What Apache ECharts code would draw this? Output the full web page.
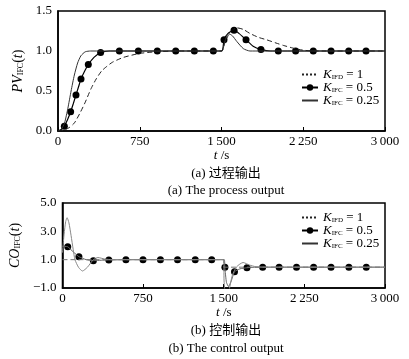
<!DOCTYPE html>
<html><head><meta charset="utf-8">
<script src="https://cdn.jsdelivr.net/npm/echarts@6/dist/echarts.min.js"></script>
<style>html,body{margin:0;padding:0;background:#fff}#c{width:409px;height:359px}</style>
</head><body><div id="c"></div>
<script>
// ---- data ----
const xTicks = [0, 750, 1500, 2250, 3000];
const legendNames = ['K_IFD = 1', 'K_IFC = 0.5', 'K_IFC = 0.25'];
// (a) process output PV
const pvK1 = [[0,0],[50,0.01],[100,0.04],[150,0.1],[200,0.22],[250,0.36],[300,0.52],[350,0.65],[400,0.75],[450,0.81],[500,0.86],[600,0.92],[750,0.97],[900,0.99],[1100,1.0],[1500,1.0],[1530,1.1],[1560,1.19],[1600,1.26],[1640,1.29],[1700,1.27],[1760,1.22],[1840,1.17],[1914,1.14],[2000,1.1],[2067,1.07],[2174,1.03],[2250,1.01],[2350,1.0],[3000,1.0]];
const pvK05 = [[0,0],[30,0.02],[58,0.06],[90,0.15],[116,0.24],[140,0.34],[165,0.45],[190,0.56],[211,0.65],[245,0.75],[278,0.83],[330,0.92],[391,0.98],[470,1.0],[1500,1.0],[1523,1.14],[1560,1.22],[1615,1.26],[1660,1.22],[1725,1.14],[1790,1.06],[1862,1.02],[1950,1.0],[3000,1.0]];
const pvK05MarkT = [58,116,165,211,278,391,563,737,911,1080,1251,1425,1523,1615,1725,1862,2021,2180,2342,2505,2667,2826];
const pvK05MarkV = [0.06,0.24,0.45,0.65,0.83,0.98,1,1,1,1,1,1,1.14,1.26,1.14,1.02,1,1,1,1,1,1];
const pvK025 = [[0,0],[30,0.02],[60,0.1],[90,0.28],[120,0.5],[150,0.7],[180,0.85],[210,0.94],[250,0.99],[300,1.0],[1500,1.0],[1530,1.12],[1563,1.22],[1600,1.19],[1640,1.12],[1700,1.03],[1761,1.0],[3000,1.0]];
// (b) control output CO
const coK1 = [[0,1.0],[1500,1.0],[1500,0.47],[3000,0.47]];
const coK05 = [[0,1.95],[49,1.91],[100,1.55],[153,1.21],[220,1.0],[287,0.93],[360,0.96],[431,0.98],[590,1.0],[1505,1.0],[1510,0.46],[1525,-0.6],[1545,-0.9],[1570,-0.5],[1600,0.15],[1650,0.35],[1716,0.43],[1800,0.47],[3000,0.47]];
const coK05MarkT = [49,153,287,431,590,749,911,1070,1235,1388,1511,1600,1716,1862,2015,2177,2336,2498,2664,2826];
const coK05MarkV = [1.91,1.21,0.93,0.98,1,1,1,1,1,1,0.46,0.15,0.43,0.47,0.47,0.47,0.47,0.47,0.47,0.47];
const coK025 = [[0,1.5],[15,2.8],[30,3.7],[43,3.96],[60,3.6],[80,2.7],[100,1.7],[116,1.0],[150,0.45],[186,0.2],[230,0.45],[287,1.0],[330,1.15],[390,1.05],[460,1.0],[1500,1.0],[1503,-0.5],[1520,-1.6],[1545,-1.3],[1580,-0.1],[1620,0.5],[1680,0.8],[1740,0.62],[1800,0.5],[1900,0.47],[3000,0.47]];

const FONT = '"Liberation Serif", "Times New Roman", serif';
const CJK = '"Liberation Serif", "Noto Sans CJK SC", serif';
const zip = (t, v) => t.map((x, i) => [x, v[i]]);

function xFmt(v){ return v >= 1000 ? Math.floor(v/1000) + '\u2009' + String(v%1000).padStart(3,'0') : String(v); }
function yFmt(v){ return (v < 0 ? '\u2212' : '') + Math.abs(v).toFixed(1); }

const richBase = {
  it: {fontFamily: FONT, fontStyle: 'italic', fontSize: 14, color: '#000'},
  n: {fontFamily: FONT, fontSize: 14, color: '#000'},
  sub: {fontFamily: FONT, fontSize: 8, color: '#000', verticalAlign: 'bottom'}
};

function mkX(gi){
  return {
    gridIndex: gi, type: 'value', min: 0, max: 3000, interval: 750,
    axisLine: {show: true, onZero: false, lineStyle: {color: '#000', width: 1.5}},
    axisTick: {show: true, inside: true, length: 4, lineStyle: {color: '#000'}},
    splitLine: {show: false},
    axisLabel: {formatter: xFmt, fontFamily: FONT, fontSize: 13, color: '#000', margin: 4},
    name: '{it|t} {n|/s}', nameLocation: 'middle', nameGap: 17,
    nameTextStyle: {rich: {it: {fontFamily: FONT, fontStyle:'italic', fontSize: 13, color:'#000'}, n: {fontFamily: FONT, fontSize: 13, color:'#000'}}}
  };
}
function mkY(gi, min, max, interval, nm){
  return {
    gridIndex: gi, type: 'value', min, max, interval,
    axisLine: {show: true, onZero: false, lineStyle: {color: '#000', width: 1.5}},
    axisTick: {show: false},
    splitLine: {show: false},
    axisLabel: {formatter: yFmt, fontFamily: FONT, fontSize: 13, color: '#000', margin: 6},
    name: nm, nameLocation: 'middle', nameGap: 28, nameRotate: 90,
    nameTextStyle: {rich: richBase}
  };
}
function legendFmt(name){
  const m = name.match(/K_(\w+) = (.*)/);
  return '{k|K}{s|' + m[1] + '}{e| = ' + m[2] + '}';
}
const legRich = {
  k: {fontFamily: FONT, fontStyle:'italic', fontSize: 13, color:'#000', lineHeight: 13},
  s: {fontFamily: FONT, fontSize: 7, color:'#000', verticalAlign:'bottom', lineHeight: 13},
  e: {fontFamily: FONT, fontSize: 13, color:'#000', lineHeight: 13}
};
function mkLegend(top){
  return {
    orient: 'vertical', left: 296, top: top, itemWidth: 16, itemHeight: 8, itemGap: 0,
    formatter: legendFmt, textStyle: {rich: legRich},
    data: [
      {name: legendNames[0], itemStyle: {opacity: 0}, lineStyle: {type: [2,2]}},
      {name: legendNames[1]},
      {name: legendNames[2], itemStyle: {opacity: 0}}
    ]
  };
}

const option = {
  animation: false,
  backgroundColor: '#fff',
  grid: [
    {left: 58, right: 24, top: 11, height: 120, show: true, borderColor: '#000', borderWidth: 1.5},
    {left: 58, right: 24, top: 203, height: 85, show: true, borderColor: '#000', borderWidth: 1.5}
  ],
  title: [
    {text: '(a) 过程输出', left: 221, top: 162, textAlign: 'center', textStyle: {fontFamily: CJK, fontWeight: 'normal', fontSize: 13, color: '#000'}},
    {text: '(a) The process output', left: 221, top: 179, textAlign: 'center', textStyle: {fontFamily: FONT, fontWeight: 'normal', fontSize: 13, color: '#000'}},
    {text: '(b) 控制输出', left: 221, top: 319, textAlign: 'center', textStyle: {fontFamily: CJK, fontWeight: 'normal', fontSize: 13, color: '#000'}},
    {text: '(b) The control output', left: 221, top: 337, textAlign: 'center', textStyle: {fontFamily: FONT, fontWeight: 'normal', fontSize: 13, color: '#000'}}
  ],
  legend: [mkLegend(63), mkLegend(206)],
  xAxis: [mkX(0), mkX(1)],
  yAxis: [
    mkY(0, 0, 1.5, 0.5, '{it|PV}{sub|IFC}{n|(}{it|t}{n|)}'),
    mkY(1, -1, 5, 2, '{it|CO}{sub|IFC}{n|(}{it|t}{n|)}')
  ],
  series: [
    {name: legendNames[0], type: 'line', xAxisIndex: 0, yAxisIndex: 0, data: pvK1, symbol: 'none', smooth: 0.2,
     lineStyle: {color: '#222', width: 1, type: [5,3]}, itemStyle: {color: '#222'}},
    {name: legendNames[1], type: 'line', xAxisIndex: 0, yAxisIndex: 0, data: pvK05, symbol: 'circle', symbolSize: 7, showSymbol: false, smooth: 0.2,
     lineStyle: {color: '#000', width: 1.2}, itemStyle: {color: '#000'}},
    {name: legendNames[1], type: 'scatter', xAxisIndex: 0, yAxisIndex: 0, data: zip(pvK05MarkT, pvK05MarkV), symbol: 'circle', symbolSize: 7, itemStyle: {color: '#000', opacity: 1}},
    {name: legendNames[2], type: 'line', xAxisIndex: 0, yAxisIndex: 0, data: pvK025, symbol: 'none', smooth: 0.2,
     lineStyle: {color: '#333', width: 1}, itemStyle: {color: '#333'}},

    {name: legendNames[0], type: 'line', xAxisIndex: 1, yAxisIndex: 1, data: coK1, symbol: 'none',
     lineStyle: {color: '#777', width: 1, type: [5,3]}, itemStyle: {color: '#777'}},
    {name: legendNames[1], type: 'line', xAxisIndex: 1, yAxisIndex: 1, data: coK05, symbol: 'circle', symbolSize: 7, showSymbol: false, smooth: 0.15,
     lineStyle: {color: '#666', width: 1}, itemStyle: {color: '#000'}},
    {name: legendNames[1], type: 'scatter', xAxisIndex: 1, yAxisIndex: 1, data: zip(coK05MarkT, coK05MarkV), symbol: 'circle', symbolSize: 7, itemStyle: {color: '#000', opacity: 1}},
    {name: legendNames[2], type: 'line', xAxisIndex: 1, yAxisIndex: 1, data: coK025, symbol: 'none', smooth: 0.2,
     lineStyle: {color: '#888', width: 1}, itemStyle: {color: '#888'}}
  ]
};
const chart = echarts.init(document.getElementById('c'), null, {renderer: 'canvas'});
chart.setOption(option);
</script></body></html>
